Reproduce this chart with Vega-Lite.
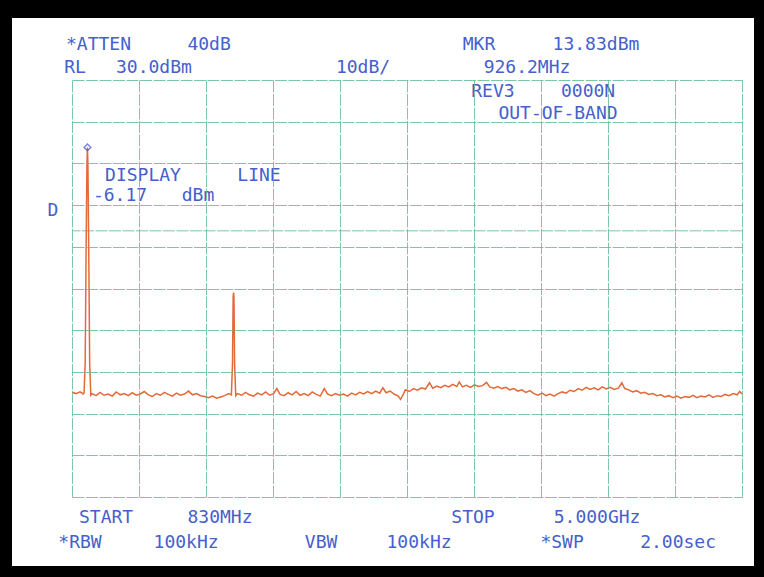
{
  "$schema": "https://vega.github.io/schema/vega-lite/v6.json",
  "width": 670,
  "height": 417,
  "autosize": "none",
  "padding": {"left": 72, "top": 80, "right": 22, "bottom": 80},
  "background": "black",
  "config": {"view": {"stroke": null}},
  "datasets": {
    "trace": [
      {"f":830,"p":-44.9},{"f":855,"p":-45.2},{"f":880,"p":-44.8},{"f":900,"p":-45.3},{"f":905,"p":-45.0},
      {"f":912,"p":-38},{"f":918,"p":-10},{"f":923,"p":10},{"f":926.2,"p":13.83},{"f":929,"p":10},{"f":934,"p":-10},{"f":940,"p":-38},{"f":947,"p":-45.6},
      {"f":955,"p":-45.2},{"f":980,"p":-45.7},{"f":1005,"p":-44.9},{"f":1030,"p":-45.6},{"f":1055,"p":-45.3},{"f":1080,"p":-45.8},{"f":1105,"p":-44.8},
      {"f":1130,"p":-45.5},{"f":1155,"p":-45.2},{"f":1180,"p":-45.7},{"f":1205,"p":-45.0},{"f":1230,"p":-45.6},{"f":1255,"p":-45.3},{"f":1280,"p":-44.7},
      {"f":1305,"p":-45.5},{"f":1330,"p":-45.9},{"f":1355,"p":-45.2},{"f":1380,"p":-45.6},{"f":1405,"p":-44.9},{"f":1430,"p":-45.4},{"f":1455,"p":-45.8},
      {"f":1480,"p":-45.1},{"f":1505,"p":-45.6},{"f":1530,"p":-45.3},{"f":1555,"p":-44.6},{"f":1580,"p":-45.5},{"f":1605,"p":-45.2},{"f":1630,"p":-45.7},
      {"f":1655,"p":-45.9},{"f":1680,"p":-46.2},{"f":1705,"p":-45.8},{"f":1730,"p":-46.3},{"f":1755,"p":-46.0},{"f":1780,"p":-45.7},{"f":1805,"p":-45.2},
      {"f":1822,"p":-45.5},{"f":1829,"p":-38},{"f":1833,"p":-22},{"f":1835.5,"p":-21},{"f":1838,"p":-22},{"f":1842,"p":-38},{"f":1849,"p":-45.7},
      {"f":1860,"p":-45.2},{"f":1885,"p":-45.6},{"f":1910,"p":-44.9},{"f":1935,"p":-45.5},{"f":1960,"p":-45.8},{"f":1985,"p":-45.1},{"f":2010,"p":-45.5},
      {"f":2035,"p":-44.8},{"f":2060,"p":-45.6},{"f":2085,"p":-45.2},{"f":2105,"p":-44.0},{"f":2125,"p":-45.4},{"f":2150,"p":-45.7},{"f":2175,"p":-45.0},
      {"f":2200,"p":-45.5},{"f":2225,"p":-44.7},{"f":2250,"p":-45.6},{"f":2275,"p":-45.2},{"f":2300,"p":-45.7},{"f":2325,"p":-44.8},{"f":2350,"p":-45.4},
      {"f":2375,"p":-45.8},{"f":2400,"p":-44.0},{"f":2420,"p":-45.3},{"f":2445,"p":-45.7},{"f":2470,"p":-45.2},{"f":2495,"p":-45.6},{"f":2520,"p":-45.3},
      {"f":2545,"p":-45.8},{"f":2570,"p":-45.1},{"f":2595,"p":-45.5},{"f":2620,"p":-44.9},{"f":2645,"p":-45.3},{"f":2670,"p":-44.7},{"f":2695,"p":-45.2},
      {"f":2720,"p":-44.6},{"f":2745,"p":-45.1},{"f":2765,"p":-43.8},{"f":2785,"p":-45.0},{"f":2810,"p":-44.6},{"f":2835,"p":-45.3},{"f":2860,"p":-45.8},
      {"f":2875,"p":-46.6},{"f":2890,"p":-45.5},{"f":2905,"p":-44.3},{"f":2930,"p":-44.7},{"f":2955,"p":-44.0},{"f":2980,"p":-44.4},{"f":3005,"p":-43.8},
      {"f":3030,"p":-44.1},{"f":3055,"p":-42.6},{"f":3075,"p":-43.9},{"f":3100,"p":-43.4},{"f":3125,"p":-43.8},{"f":3150,"p":-43.2},{"f":3175,"p":-43.6},
      {"f":3200,"p":-43.0},{"f":3225,"p":-43.5},{"f":3240,"p":-42.4},{"f":3260,"p":-43.6},{"f":3285,"p":-43.2},{"f":3310,"p":-43.7},{"f":3335,"p":-43.1},
      {"f":3360,"p":-43.5},{"f":3385,"p":-43.3},{"f":3410,"p":-42.5},{"f":3430,"p":-43.6},{"f":3455,"p":-43.9},{"f":3480,"p":-43.5},{"f":3505,"p":-44.0},
      {"f":3530,"p":-43.7},{"f":3555,"p":-44.3},{"f":3580,"p":-44.0},{"f":3605,"p":-44.6},{"f":3630,"p":-44.3},{"f":3655,"p":-44.9},{"f":3680,"p":-44.5},
      {"f":3705,"p":-45.2},{"f":3730,"p":-45.6},{"f":3755,"p":-45.1},{"f":3780,"p":-45.7},{"f":3805,"p":-45.3},{"f":3830,"p":-45.8},{"f":3855,"p":-45.2},
      {"f":3880,"p":-44.8},{"f":3905,"p":-45.1},{"f":3930,"p":-44.4},{"f":3955,"p":-44.7},{"f":3980,"p":-44.0},{"f":4005,"p":-44.4},{"f":4030,"p":-43.7},
      {"f":4055,"p":-44.2},{"f":4080,"p":-43.8},{"f":4105,"p":-44.3},{"f":4130,"p":-43.6},{"f":4155,"p":-44.1},{"f":4180,"p":-43.7},{"f":4205,"p":-44.2},
      {"f":4230,"p":-43.9},{"f":4252,"p":-42.6},{"f":4270,"p":-44.0},{"f":4295,"p":-44.3},{"f":4320,"p":-44.8},{"f":4345,"p":-44.5},{"f":4370,"p":-45.1},
      {"f":4395,"p":-44.9},{"f":4420,"p":-45.4},{"f":4445,"p":-45.2},{"f":4470,"p":-45.7},{"f":4495,"p":-45.5},{"f":4520,"p":-46.0},{"f":4545,"p":-45.7},
      {"f":4570,"p":-46.2},{"f":4595,"p":-45.8},{"f":4620,"p":-46.3},{"f":4645,"p":-45.9},{"f":4670,"p":-46.1},{"f":4695,"p":-45.6},{"f":4720,"p":-46.2},
      {"f":4745,"p":-45.8},{"f":4770,"p":-46.0},{"f":4795,"p":-45.5},{"f":4820,"p":-46.1},{"f":4845,"p":-45.7},{"f":4870,"p":-45.9},{"f":4895,"p":-45.4},
      {"f":4920,"p":-45.7},{"f":4945,"p":-45.2},{"f":4970,"p":-45.5},{"f":4985,"p":-44.7},{"f":5000,"p":-45.3}
    ],
    "labels": [
      {"f":995,"p":38.4,"t":"*ATTEN"},{"f":1683,"p":38.4,"t":"40dB"},
      {"f":3363,"p":38.4,"t":"MKR"},{"f":4091,"p":38.4,"t":"13.83dBm"},
      {"f":849,"p":32.9,"t":"RL"},{"f":1340,"p":32.9,"t":"30.0dBm"},{"f":2641,"p":32.9,"t":"10dB/"},{"f":3662,"p":32.9,"t":"926.2MHz"},
      {"f":3450,"p":27.1,"t":"REV3"},{"f":4042,"p":27.1,"t":"0000N"},
      {"f":3855,"p":21.85,"t":"OUT-OF-BAND"},
      {"f":1272,"p":7.0,"t":"DISPLAY"},{"f":1994,"p":7.0,"t":"LINE"},
      {"f":1129,"p":2.1,"t":"-6.17"},{"f":1614,"p":2.1,"t":"dBm"},
      {"f":712,"p":-1.41,"t":"D"},
      {"f":1042,"p":-75.0,"t":"START"},{"f":1751,"p":-75.0,"t":"830MHz"},{"f":3326,"p":-75.0,"t":"STOP"},{"f":4098,"p":-75.0,"t":"5.000GHz"},
      {"f":880,"p":-81.0,"t":"*RBW"},{"f":1540,"p":-81.0,"t":"100kHz"},{"f":2380,"p":-81.0,"t":"VBW"},{"f":2990,"p":-81.0,"t":"100kHz"},
      {"f":3880,"p":-81.0,"t":"*SWP"},{"f":4602,"p":-81.0,"t":"2.00sec"}
    ],
    "marker": [{"f":926.2,"p":13.83}],
    "one": [{}]
  },
  "layer": [
    {
      "data": {"name": "one"},
      "mark": {"type": "rect", "color": "white"},
      "encoding": {
        "x": {"datum": 456.6, "type": "quantitative", "scale": {"domain": [830, 5000], "nice": false, "zero": false},
              "axis": {"values": [830,1247,1664,2081,2498,2915,3332,3749,4166,4583,5000], "labels": false, "ticks": false, "domain": false, "title": null, "grid": true, "gridColor": "#5cb892", "gridOpacity": 0.8, "gridWidth": 1, "gridDash": [12, 1.5], "zindex": 1}},
        "x2": {"datum": 5074.7},
        "y": {"datum": 44.87, "type": "quantitative", "scale": {"domain": [-70, 30], "nice": false, "zero": false},
              "axis": {"values": [-70,-60,-50,-40,-30,-20,-10,0,10,20,30], "labels": false, "ticks": false, "domain": false, "title": null, "grid": true, "gridColor": "#5cb892", "gridOpacity": 0.8, "gridWidth": 1, "gridDash": [12, 1.5], "zindex": 1}},
        "y2": {"datum": -86.55}
      }
    },
    {
      "data": {"name": "one"},
      "mark": {"type": "rule", "color": "#5cb892", "opacity": 0.8, "strokeWidth": 1, "strokeDash": [12, 1.5]},
      "encoding": {"y": {"datum": -6.17, "type": "quantitative"}}
    },
    {
      "data": {"name": "trace"},
      "mark": {"type": "line", "color": "#e4693a", "strokeWidth": 1.5},
      "encoding": {
        "x": {"field": "f", "type": "quantitative"},
        "y": {"field": "p", "type": "quantitative"}
      }
    },
    {
      "data": {"name": "marker"},
      "mark": {"type": "point", "shape": "diamond", "filled": false, "color": "#3f57c8", "size": 45, "strokeWidth": 1.5},
      "encoding": {
        "x": {"field": "f", "type": "quantitative"},
        "y": {"field": "p", "type": "quantitative"}
      }
    },
    {
      "data": {"name": "labels"},
      "mark": {"type": "text", "font": "DejaVu Sans Mono", "fontSize": 18, "color": "#4560cc", "align": "center", "baseline": "middle"},
      "encoding": {
        "x": {"field": "f", "type": "quantitative"},
        "y": {"field": "p", "type": "quantitative"},
        "text": {"field": "t"}
      }
    }
  ]
}
